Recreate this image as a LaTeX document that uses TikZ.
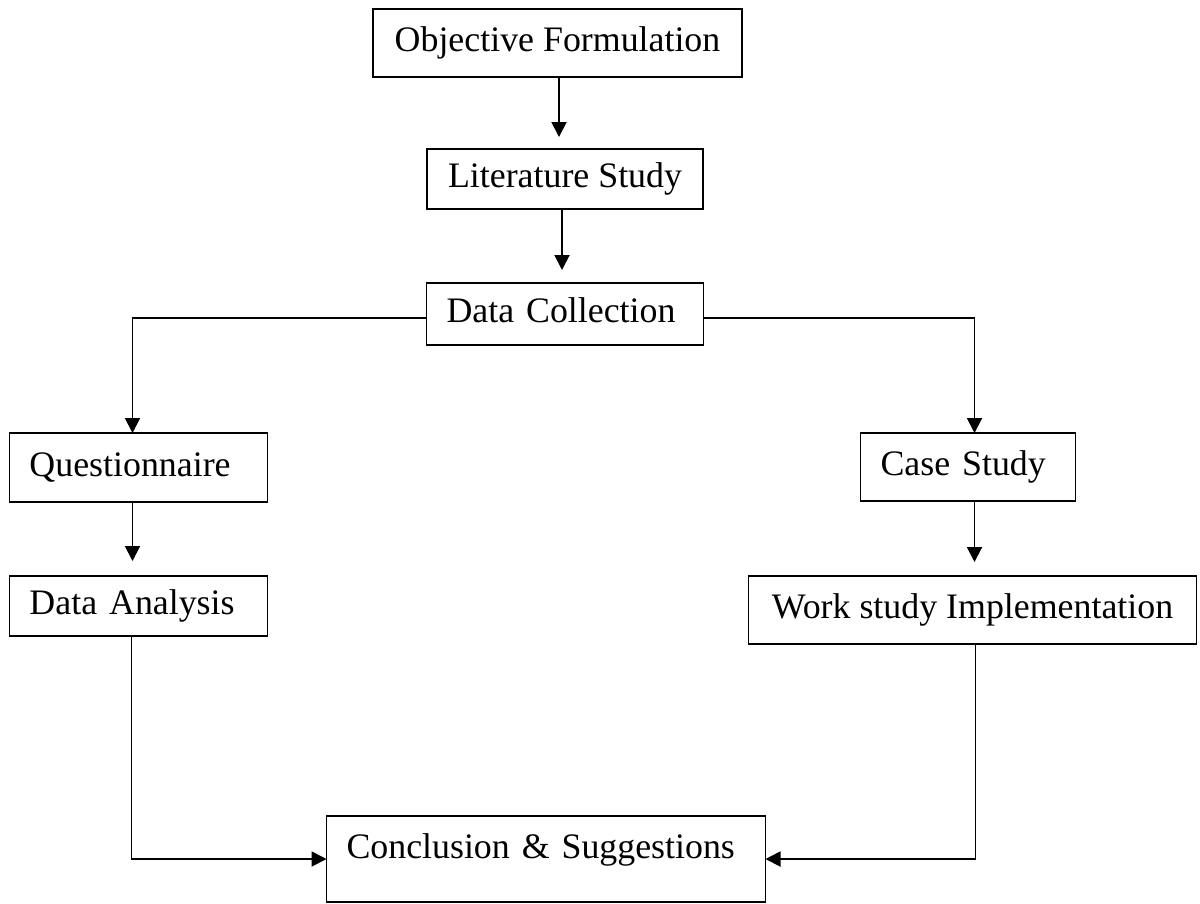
\documentclass[tikz,border=0pt]{standalone}
\usepackage{fontspec}
\setmainfont{Liberation Serif}
\usetikzlibrary{positioning,calc,arrows.meta}

\begin{document}
\begin{tikzpicture}[
		stage/.style={draw, line width=1.1pt, outer sep=0pt, inner xsep=0.4cm, inner ysep=0pt, align=left, text height=0.5cm, text depth=0.16cm, font=\fontsize{20.4}{24}\selectfont},
		arr/.style={line width=1.1pt, -{Triangle[length=0.3cm, width=0.3cm]}}
	]
		\useasboundingbox (0,0) rectangle (24,-18.06);
		\node[stage, minimum width=7.38cm, minimum height=1.36cm] (obj) at (11.15,-0.86) {Objective Formulation};
		\node[stage, minimum width=5.52cm, minimum height=1.2cm, anchor=north] (lit) at ([xshift=0.15cm,yshift=-1.44cm]obj.south) {Literature Study};
		\node[stage, text width=4.74cm, minimum height=1.24cm, anchor=north] (dc) at ([yshift=-1.48cm]lit.south) {Data Collection};
		
		\node[stage, text width=4.36cm, minimum height=1.38cm, anchor=north] (quest) at ([xshift=-8.53cm,yshift=-1.76cm]dc.south) {Questionnaire};
		\node[stage, text width=3.5cm, minimum height=1.36cm, anchor=north] (cs) at ([xshift=8.06cm,yshift=-1.76cm]dc.south) {Case Study};
		\node[stage, text width=4.36cm, minimum height=1.2cm, anchor=north] (da) at ([yshift=-1.48cm]quest.south) {Data Analysis};
		\node[stage, minimum width=8.96cm, minimum height=1.36cm, anchor=north] (wsi) at ([xshift=0.09cm,yshift=-1.5cm]cs.south) {Work study Implementation};
		
		\node[stage, text width=7.98cm, text height=0.84cm, text depth=0.88cm, anchor=north] (conc) at ([xshift=-0.38cm,yshift=-9.42cm]dc.south) {Conclusion \& Suggestions};
		
		\draw[arr, shorten >=0.24cm] ([xshift=0.03cm]obj.south) -- ([xshift=0.03cm]obj.south |- lit.north);
		\draw[arr, shorten >=0.26cm] ([xshift=-0.06cm]lit.south) -- ([xshift=-0.06cm]lit.south |- dc.north);
		\draw[arr] ([yshift=-0.08cm]dc.west) -| ([xshift=-0.12cm]quest.north);
		\draw[arr] ([yshift=-0.08cm]dc.east) -| ([xshift=0.13cm]cs.north);
		\draw[arr, shorten >=0.3cm] ([xshift=-0.12cm]quest.south) -- ([xshift=-0.12cm]quest.south |- da.north);
		\draw[arr, shorten >=0.28cm] ([xshift=0.13cm]cs.south) -- ([xshift=0.13cm]cs.south |- wsi.north);
		\draw[arr] ([xshift=-0.14cm]da.south) |- (conc.west);
		\draw[arr] ([xshift=0.06cm]wsi.south) |- (conc.east);
	\end{tikzpicture}
\end{document}
